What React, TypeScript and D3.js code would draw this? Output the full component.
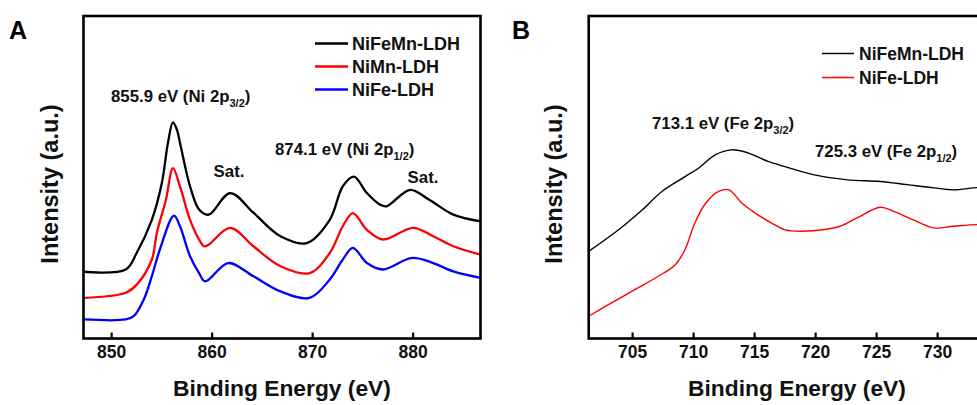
import React from "react";
import * as d3 from "d3";

// ---------- Panel A data (Ni 2p) ----------
const energyA_black = [847.2, 851.4, 852.5, 854.0, 855.0, 855.6, 856.1, 856.5, 856.8, 857.8, 858.7, 859.65, 861.8, 864.1, 866.8, 869.4, 871.7, 873.0, 874.1, 875.4, 876.7, 877.35, 879.7, 881.6, 884.0, 886.7];
const intensityA_NiFeMn = [20.7, 21.4, 26.6, 36.8, 48.3, 60.6, 67.0, 64.7, 60.7, 47.2, 40.0, 38.4, 45.1, 39.0, 31.7, 29.6, 36.8, 47.2, 50.2, 45.1, 41.5, 41.0, 46.1, 43.0, 38.4, 36.3];

const energyA_red = [847.2, 851.4, 852.5, 854.0, 854.5, 855.4, 856.1, 856.8, 857.8, 858.7, 859.2, 859.65, 861.8, 864.1, 866.8, 869.7, 871.7, 873.0, 874.0, 875.4, 877.0, 880.0, 882.0, 884.0, 886.7];
const intensityA_NiMn = [12.6, 14.2, 16.7, 24.5, 32.8, 43.0, 52.8, 47.2, 36.8, 30.7, 28.6, 29.1, 34.3, 28.6, 22.4, 20.3, 26.5, 34.8, 38.9, 33.7, 30.7, 34.3, 31.7, 28.6, 26.0];

const energyA_blue = [847.2, 851.4, 852.2, 853.2, 854.0, 854.8, 856.2, 856.8, 857.8, 858.7, 859.3, 861.6, 864.1, 866.8, 869.7, 871.7, 873.0, 874.0, 875.4, 877.0, 879.9, 882.0, 884.0, 886.7];
const intensityA_NiFe = [5.9, 5.9, 6.9, 12.1, 19.3, 27.6, 38.1, 34.8, 25.5, 20.3, 17.7, 23.4, 19.3, 14.6, 12.6, 18.3, 24.5, 28.1, 23.4, 21.4, 25.0, 23.4, 20.8, 18.8];

const ticksA = [850, 860, 870, 880];

// ---------- Panel B data (Fe 2p) ----------
const energyB_black = [701.4, 703.85, 705.8, 707.4, 709.3, 710.4, 711.8, 713.1, 714.5, 716.1, 717.5, 719.8, 722.6, 725.3, 727.5, 729.7, 731.3, 733.25, 735.0];
const intensityB_NiFeMn = [27.0, 33.7, 39.9, 45.6, 50.2, 52.8, 57.0, 58.5, 57.5, 54.9, 53.3, 50.8, 49.2, 48.7, 47.7, 46.7, 46.1, 46.8, 47.0];

const energyB_red = [701.4, 703.3, 705.2, 707.1, 708.5, 709.3, 710.1, 711.0, 712.05, 712.9, 713.95, 715.05, 716.4, 717.5, 719.8, 722.0, 723.4, 725.3, 726.4, 728.0, 729.7, 731.3, 733.25, 735.0];
const intensityB_NiFe = [6.9, 11.1, 15.2, 19.3, 22.9, 27.6, 35.8, 42.0, 45.6, 46.1, 42.0, 38.9, 35.8, 33.7, 33.4, 34.8, 37.4, 40.7, 39.4, 36.8, 34.3, 34.8, 35.3, 35.0];

const ticksB = [705, 710, 715, 720, 725, 730];

const FONT = "'Liberation Sans', Arial, Helvetica, sans-serif";

type Series = { name: string; color: string; x: number[]; y: number[] };

const seriesA: Series[] = [
  { name: "NiFeMn-LDH", color: "#000000", x: energyA_black, y: intensityA_NiFeMn },
  { name: "NiMn-LDH", color: "#ff0000", x: energyA_red, y: intensityA_NiMn },
  { name: "NiFe-LDH", color: "#0000ff", x: energyA_blue, y: intensityA_NiFe },
];
const seriesB: Series[] = [
  { name: "NiFeMn-LDH", color: "#000000", x: energyB_black, y: intensityB_NiFeMn },
  { name: "NiFe-LDH", color: "#ff0000", x: energyB_red, y: intensityB_NiFe },
];

function Label({ x, y, main, sub, anchor = "start" }: { x: number; y: number; main: string; sub: string; anchor?: string }) {
  return (
    <text x={x} y={y} fontFamily={FONT} fontWeight="bold" fontSize={16.8} textAnchor={anchor as any} fill="#111">
      {main}
      <tspan fontSize={11} dy={5}>{sub}</tspan>
      <tspan dy={-5}>)</tspan>
    </text>
  );
}

function Panel({
  left, right, top, bottom, domain, ticks, series, lineWidth, clipId,
}: {
  left: number; right: number; top: number; bottom: number; domain: [number, number]; ticks: number[]; series: Series[]; lineWidth: number; clipId: string;
}) {
  const x = d3.scaleLinear().domain(domain).range([left, right]);
  const y = d3.scaleLinear().domain([0, 100]).range([bottom, top]);
  return (
    <g>
      <defs>
        <clipPath id={clipId}>
          <rect x={left} y={top} width={right - left} height={bottom - top} />
        </clipPath>
      </defs>
      <g clipPath={`url(#${clipId})`}>
        {series.map((s) => {
          const pts: [number, number][] = s.x.map((v, i) => [v, s.y[i]]);
          const line = d3
            .line<[number, number]>()
            .x((d) => x(d[0]))
            .y((d) => y(d[1]))
            .curve(d3.curveCatmullRom.alpha(0.5));
          return <path key={s.name} d={line(pts) || ""} fill="none" stroke={s.color} strokeWidth={lineWidth} strokeLinejoin="round" />;
        })}
      </g>
      <rect x={left} y={top} width={right - left} height={bottom - top} fill="none" stroke="#000" strokeWidth={2.6} />
      {ticks.map((t) => (
        <g key={t}>
          <line x1={x(t)} x2={x(t)} y1={bottom} y2={bottom - 6} stroke="#000" strokeWidth={2.2} />
          <text x={x(t)} y={bottom + 19} textAnchor="middle" fontFamily={FONT} fontWeight="bold" fontSize={17.5} fill="#111">
            {t}
          </text>
        </g>
      ))}
    </g>
  );
}

export default function App() {
  const topY = 16;
  const botY = 338.5;
  const aL = 83.5, aR = 480.5;
  const bL = 588.7, bR = 1010;
  const domA: [number, number] = [847.2, 886.7];
  const bPx = 12.2; // px per eV in panel B
  const domB: [number, number] = [701.4, 701.4 + (bR - bL) / bPx];

  return (
    <svg width={977} height={405} style={{ position: "absolute", left: 0, top: 0, background: "#fff" }} xmlns="http://www.w3.org/2000/svg">
      <rect x={0} y={0} width={977} height={405} fill="#fff" />
      {/* Panel letters */}
      <text x={9} y={39} fontFamily={FONT} fontWeight="bold" fontSize={25} fill="#000">A</text>
      <text x={512} y={39} fontFamily={FONT} fontWeight="bold" fontSize={25} fill="#000">B</text>

      <Panel left={aL} right={aR} top={topY} bottom={botY} domain={domA} ticks={ticksA} series={seriesA} lineWidth={2.3} clipId="clipA" />
      <Panel left={bL} right={bR} top={topY} bottom={botY} domain={domB} ticks={ticksB} series={seriesB} lineWidth={1.4} clipId="clipB" />

      {/* Axis titles */}
      <text x={282} y={396} textAnchor="middle" fontFamily={FONT} fontWeight="bold" fontSize={22.8} fill="#111">Binding Energy (eV)</text>
      <text x={797} y={396} textAnchor="middle" fontFamily={FONT} fontWeight="bold" fontSize={22.8} fill="#111">Binding Energy (eV)</text>
      <text transform="translate(58,184) rotate(-90)" textAnchor="middle" fontFamily={FONT} fontWeight="bold" fontSize={23.5} fill="#111">Intensity (a.u.)</text>
      <text transform="translate(562,184) rotate(-90)" textAnchor="middle" fontFamily={FONT} fontWeight="bold" fontSize={23.5} fill="#111">Intensity (a.u.)</text>

      {/* Legend A */}
      {seriesA.map((s, i) => (
        <g key={s.name}>
          <line x1={315} x2={348} y1={43.5 + i * 23} y2={43.5 + i * 23} stroke={s.color} strokeWidth={2.3} />
          <text x={352} y={49.5 + i * 23} fontFamily={FONT} fontWeight="bold" fontSize={18} fill="#111">{s.name}</text>
        </g>
      ))}
      {/* Legend B */}
      {seriesB.map((s, i) => (
        <g key={s.name}>
          <line x1={822} x2={854} y1={53.5 + i * 24} y2={53.5 + i * 24} stroke={s.color} strokeWidth={1.5} />
          <text x={859} y={59.5 + i * 24} fontFamily={FONT} fontWeight="bold" fontSize={17.5} fill="#111">{s.name}</text>
        </g>
      ))}

      {/* Annotations A */}
      <Label x={111} y={102} main="855.9 eV (Ni 2p" sub="3/2" />
      <Label x={275} y={155} main="874.1 eV (Ni 2p" sub="1/2" />
      <text x={229} y={177} textAnchor="middle" fontFamily={FONT} fontWeight="bold" fontSize={16.8} fill="#111">Sat.</text>
      <text x={423} y={183} textAnchor="middle" fontFamily={FONT} fontWeight="bold" fontSize={16.8} fill="#111">Sat.</text>

      {/* Annotations B */}
      <Label x={652} y={129} main="713.1 eV (Fe 2p" sub="3/2" />
      <Label x={815} y={157} main="725.3 eV (Fe 2p" sub="1/2" />
    </svg>
  );
}
